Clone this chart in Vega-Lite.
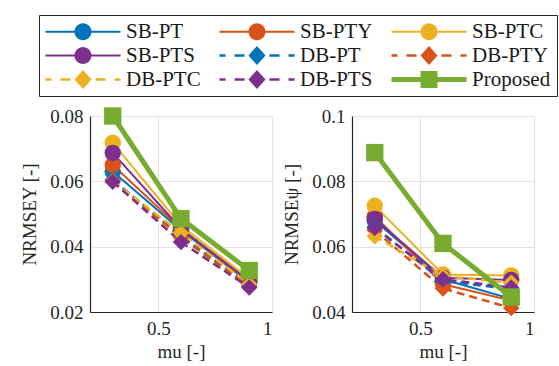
{
  "$schema": "https://vega.github.io/schema/vega-lite/v6.json",
  "background": "white",
  "padding": {"left": 20, "top": 14, "right": 5, "bottom": 4},
  "config": {
    "font": "Liberation Serif, Times New Roman, DejaVu Serif, serif",
    "view": {"stroke": null},
    "concat": {"spacing": 10},
    "axis": {
      "labelFont": "Liberation Serif, Times New Roman, DejaVu Serif, serif", "labelFontSize": 19, "labelColor": "#262626",
      "titleFont": "Liberation Serif, Times New Roman, DejaVu Serif, serif", "titleFontSize": 19, "titleFontWeight": "normal", "titleColor": "#262626",
      "domainColor": "#262626", "domainWidth": 1.2, "ticks": false, "labelPadding": 7,
      "grid": true, "gridColor": "#e2e2e2", "gridWidth": 1
    },
    "axisY": {"titlePadding": 10},
    "axisX": {"titlePadding": 4}
  },
  "data": {"values": [
    {"p": "Y", "s": "SB-PT", "mu": 0.3, "v": 0.063}, {"p": "Y", "s": "SB-PT", "mu": 0.6, "v": 0.045}, {"p": "Y", "s": "SB-PT", "mu": 0.9, "v": 0.029},
    {"p": "Y", "s": "SB-PTY", "mu": 0.3, "v": 0.065}, {"p": "Y", "s": "SB-PTY", "mu": 0.6, "v": 0.0455}, {"p": "Y", "s": "SB-PTY", "mu": 0.9, "v": 0.0292},
    {"p": "Y", "s": "SB-PTC", "mu": 0.3, "v": 0.0718}, {"p": "Y", "s": "SB-PTC", "mu": 0.6, "v": 0.0465}, {"p": "Y", "s": "SB-PTC", "mu": 0.9, "v": 0.0302},
    {"p": "Y", "s": "SB-PTS", "mu": 0.3, "v": 0.0687}, {"p": "Y", "s": "SB-PTS", "mu": 0.6, "v": 0.0455}, {"p": "Y", "s": "SB-PTS", "mu": 0.9, "v": 0.0295},
    {"p": "Y", "s": "DB-PT", "mu": 0.3, "v": 0.0605}, {"p": "Y", "s": "DB-PT", "mu": 0.6, "v": 0.0432}, {"p": "Y", "s": "DB-PT", "mu": 0.9, "v": 0.0282},
    {"p": "Y", "s": "DB-PTY", "mu": 0.3, "v": 0.0602}, {"p": "Y", "s": "DB-PTY", "mu": 0.6, "v": 0.0428}, {"p": "Y", "s": "DB-PTY", "mu": 0.9, "v": 0.0278},
    {"p": "Y", "s": "DB-PTC", "mu": 0.3, "v": 0.06}, {"p": "Y", "s": "DB-PTC", "mu": 0.6, "v": 0.0442}, {"p": "Y", "s": "DB-PTC", "mu": 0.9, "v": 0.0285},
    {"p": "Y", "s": "DB-PTS", "mu": 0.3, "v": 0.0599}, {"p": "Y", "s": "DB-PTS", "mu": 0.6, "v": 0.0414}, {"p": "Y", "s": "DB-PTS", "mu": 0.9, "v": 0.0275},
    {"p": "Y", "s": "Proposed", "mu": 0.3, "v": 0.08}, {"p": "Y", "s": "Proposed", "mu": 0.6, "v": 0.0486}, {"p": "Y", "s": "Proposed", "mu": 0.9, "v": 0.0327},
    {"p": "psi", "s": "SB-PT", "mu": 0.3, "v": 0.068}, {"p": "psi", "s": "SB-PT", "mu": 0.6, "v": 0.05}, {"p": "psi", "s": "SB-PT", "mu": 0.9, "v": 0.044},
    {"p": "psi", "s": "SB-PTY", "mu": 0.3, "v": 0.0693}, {"p": "psi", "s": "SB-PTY", "mu": 0.6, "v": 0.0485}, {"p": "psi", "s": "SB-PTY", "mu": 0.9, "v": 0.0435},
    {"p": "psi", "s": "SB-PTC", "mu": 0.3, "v": 0.0725}, {"p": "psi", "s": "SB-PTC", "mu": 0.6, "v": 0.0515}, {"p": "psi", "s": "SB-PTC", "mu": 0.9, "v": 0.0512},
    {"p": "psi", "s": "SB-PTS", "mu": 0.3, "v": 0.0685}, {"p": "psi", "s": "SB-PTS", "mu": 0.6, "v": 0.0505}, {"p": "psi", "s": "SB-PTS", "mu": 0.9, "v": 0.0498},
    {"p": "psi", "s": "DB-PT", "mu": 0.3, "v": 0.066}, {"p": "psi", "s": "DB-PT", "mu": 0.6, "v": 0.0495}, {"p": "psi", "s": "DB-PT", "mu": 0.9, "v": 0.047},
    {"p": "psi", "s": "DB-PTY", "mu": 0.3, "v": 0.065}, {"p": "psi", "s": "DB-PTY", "mu": 0.6, "v": 0.0472}, {"p": "psi", "s": "DB-PTY", "mu": 0.9, "v": 0.0412},
    {"p": "psi", "s": "DB-PTC", "mu": 0.3, "v": 0.0632}, {"p": "psi", "s": "DB-PTC", "mu": 0.6, "v": 0.051}, {"p": "psi", "s": "DB-PTC", "mu": 0.9, "v": 0.049},
    {"p": "psi", "s": "DB-PTS", "mu": 0.3, "v": 0.0657}, {"p": "psi", "s": "DB-PTS", "mu": 0.6, "v": 0.05}, {"p": "psi", "s": "DB-PTS", "mu": 0.9, "v": 0.0475},
    {"p": "psi", "s": "Proposed", "mu": 0.3, "v": 0.0888}, {"p": "psi", "s": "Proposed", "mu": 0.6, "v": 0.061}, {"p": "psi", "s": "Proposed", "mu": 0.9, "v": 0.0446}
  ]},
  "resolve": {"scale": {"color": "shared"}, "legend": {"color": "shared"}},
  "hconcat": [
    {
      "width": 182, "height": 196,
      "transform": [{"filter": "datum.p == 'Y'"}],
      "encoding": {
        "x": {"field": "mu", "type": "quantitative", "scale": {"domain": [0.2, 1]}, "axis": {"values": [0.5, 1], "format": "~g", "title": "mu [-]"}},
        "y": {"field": "v", "type": "quantitative", "scale": {"domain": [0.02, 0.08]}, "axis": {"values": [0.02, 0.04, 0.06, 0.08], "format": "~g", "title": "NRMSEY [-]"}},
        "color": {
          "field": "s", "type": "nominal",
          "scale": {"domain": ["SB-PT", "SB-PTY", "SB-PTC", "SB-PTS", "DB-PT", "DB-PTY", "DB-PTC", "DB-PTS", "Proposed"],
                    "range": ["#0072BD", "#D95319", "#EDB120", "#7E2F8E", "#0072BD", "#D95319", "#EDB120", "#7E2F8E", "#77AC30"]},
          "legend": {
            "orient": "none", "legendX": -51, "legendY": -101, "columns": 3, "direction": "horizontal", "title": null,
            "symbolSize": 400, "symbolStrokeWidth": 0,
            "labelFont": "Liberation Serif, Times New Roman, DejaVu Serif, serif", "labelFontSize": 21, "labelColor": "#1a1a1a",
            "labelOffset": 60, "columnPadding": 18, "rowPadding": 2,
            "padding": 6, "strokeColor": "#262626", "fillColor": "white",
            "encode": {"symbols": {"update": {
              "shape": {"signal": "datum.value == 'Proposed' ? 'M-1,-0.25H6.5V0.25H-1ZM1.9,-0.85H3.6V0.85H1.9Z' : indexof(datum.value, 'DB') == 0 ? 'M-1,-0.12H-0.4V0.12H-1ZM0.5,-0.12H1.5V0.12H0.5ZM4,-0.12H5V0.12H4ZM5.9,-0.12H6.5V0.12H5.9ZM2.75,-0.95L3.6,0L2.75,0.95L1.9,0Z' : 'M-1,-0.1H6.5V0.1H-1ZM3.6,0A0.85,0.85,0,1,1,1.9,0A0.85,0.85,0,1,1,3.6,0Z'"},
              "fill": {"scale": "color", "field": "value"},
              "stroke": {"value": "transparent"},
              "strokeWidth": {"value": 0},
              "opacity": {"value": 1}
            }}}
          }
        }
      },
      "layer": [
        {"transform": [{"filter": "indexof(datum.s, 'SB') == 0"}], "mark": {"type": "line", "strokeWidth": 2}},
        {"transform": [{"filter": "indexof(datum.s, 'SB') == 0"}], "mark": {"type": "point", "shape": "circle", "filled": true, "size": 270, "opacity": 1}},
        {"transform": [{"filter": "indexof(datum.s, 'DB') == 0"}], "mark": {"type": "line", "strokeWidth": 2.5, "strokeDash": [8, 5]}},
        {"transform": [{"filter": "indexof(datum.s, 'DB') == 0"}], "mark": {"type": "point", "shape": "diamond", "filled": true, "size": 270, "opacity": 1}},
        {"transform": [{"filter": "datum.s == 'Proposed'"}], "mark": {"type": "line", "strokeWidth": 5}},
        {"transform": [{"filter": "datum.s == 'Proposed'"}], "mark": {"type": "point", "shape": "square", "filled": true, "size": 300, "opacity": 1}}
      ]
    },
    {
      "width": 182, "height": 196,
      "transform": [{"filter": "datum.p == 'psi'"}],
      "encoding": {
        "x": {"field": "mu", "type": "quantitative", "scale": {"domain": [0.2, 1]}, "axis": {"values": [0.5, 1], "format": "~g", "title": "mu [-]"}},
        "y": {"field": "v", "type": "quantitative", "scale": {"domain": [0.04, 0.1]}, "axis": {"values": [0.04, 0.06, 0.08, 0.1], "format": "~g", "title": "NRMSEψ [-]"}},
        "color": {"field": "s", "type": "nominal"}
      },
      "layer": [
        {"transform": [{"filter": "indexof(datum.s, 'SB') == 0"}], "mark": {"type": "line", "strokeWidth": 2}},
        {"transform": [{"filter": "indexof(datum.s, 'SB') == 0"}], "mark": {"type": "point", "shape": "circle", "filled": true, "size": 270, "opacity": 1}},
        {"transform": [{"filter": "indexof(datum.s, 'DB') == 0"}], "mark": {"type": "line", "strokeWidth": 2.5, "strokeDash": [8, 5]}},
        {"transform": [{"filter": "indexof(datum.s, 'DB') == 0"}], "mark": {"type": "point", "shape": "diamond", "filled": true, "size": 270, "opacity": 1}},
        {"transform": [{"filter": "datum.s == 'Proposed'"}], "mark": {"type": "line", "strokeWidth": 5}},
        {"transform": [{"filter": "datum.s == 'Proposed'"}], "mark": {"type": "point", "shape": "square", "filled": true, "size": 300, "opacity": 1}}
      ]
    }
  ]
}
